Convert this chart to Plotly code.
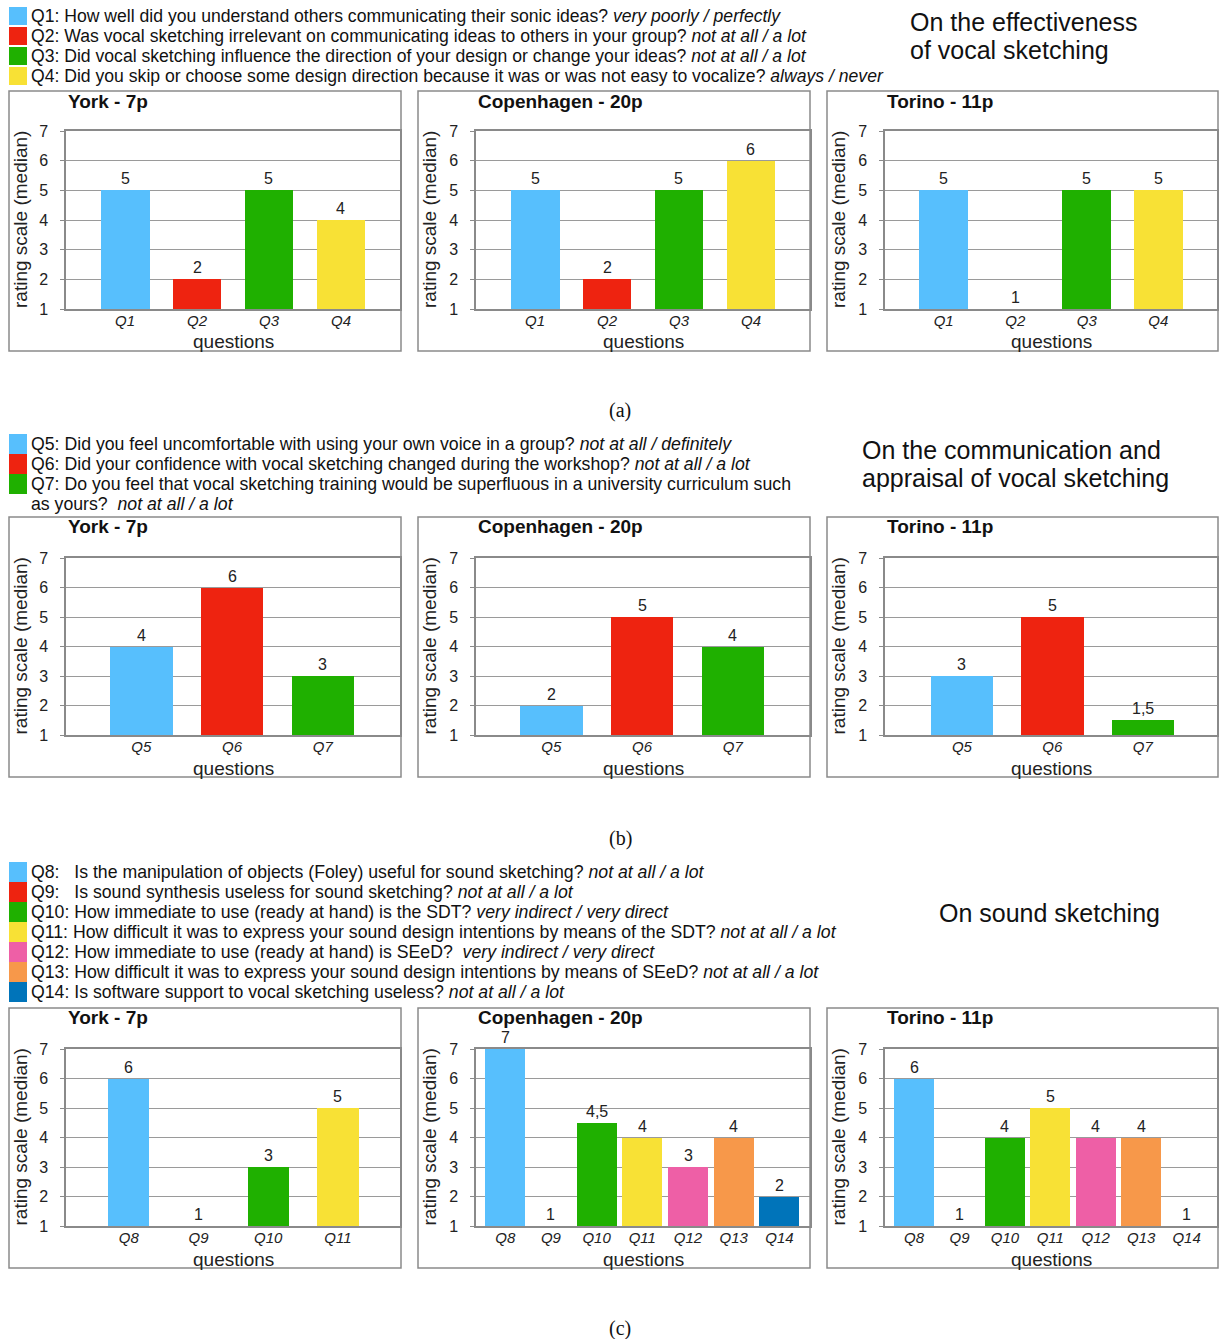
import plotly.graph_objects as go

W, H = 1219, 1339

# ---------------- data ----------------
questions_a = ["Q1", "Q2", "Q3", "Q4"]
york_a = [5, 2, 5, 4]
copenhagen_a = [5, 2, 5, 6]
torino_a = [5, 1, 5, 5]

questions_b = ["Q5", "Q6", "Q7"]
york_b = [4, 6, 3]
copenhagen_b = [2, 5, 4]
torino_b = [3, 5, 1.5]

questions_c_york = ["Q8", "Q9", "Q10", "Q11"]
york_c = [6, 1, 3, 5]
questions_c = ["Q8", "Q9", "Q10", "Q11", "Q12", "Q13", "Q14"]
copenhagen_c = [7, 1, 4.5, 4, 3, 4, 2]
torino_c = [6, 1, 4, 5, 4, 4, 1]

panel_titles = ["York - 7p", "Copenhagen - 20p", "Torino - 11p"]

legend_a = [
    ("Q1: How well did you understand others communicating their sonic ideas? ", "very poorly / perfectly"),
    ("Q2: Was vocal sketching irrelevant on communicating ideas to others in your group? ", "not at all / a lot"),
    ("Q3: Did vocal sketching influence the direction of your design or change your ideas? ", "not at all / a lot"),
    ("Q4: Did you skip or choose some design direction because it was or was not easy to vocalize? ", "always / never"),
]
legend_b = [
    ("Q5: Did you feel uncomfortable with using your own voice in a group? ", "not at all / definitely"),
    ("Q6: Did your confidence with vocal sketching changed during the workshop? ", "not at all / a lot"),
    ("Q7: Do you feel that vocal sketching training would be superfluous in a university curriculum such", ""),
]
legend_b_extra = ("as yours?\u00a0\u00a0", "not at all / a lot")
legend_c = [
    ("Q8:\u00a0\u00a0\u00a0Is the manipulation of objects (Foley) useful for sound sketching? ", "not at all / a lot"),
    ("Q9:\u00a0\u00a0\u00a0Is sound synthesis useless for sound sketching? ", "not at all / a lot"),
    ("Q10: How immediate to use (ready at hand) is the SDT? ", "very indirect / very direct"),
    ("Q11: How difficult it was to express your sound design intentions by means of the SDT? ", "not at all / a lot"),
    ("Q12: How immediate to use (ready at hand) is SEeD?\u00a0\u00a0", "very indirect / very direct"),
    ("Q13: How difficult it was to express your sound design intentions by means of SEeD? ", "not at all / a lot"),
    ("Q14: Is software support to vocal sketching useless? ", "not at all / a lot"),
]
section_titles = [["On the effectiveness", "of vocal sketching"],
                  ["On the communication and", "appraisal of vocal sketching"],
                  ["On sound sketching"]]
captions = ["(a)", "(b)", "(c)"]

colors = {
    "Q1": "#57BFFD", "Q2": "#EE2310", "Q3": "#1FB000", "Q4": "#F8E135",
    "Q5": "#57BFFD", "Q6": "#EE2310", "Q7": "#1FB000",
    "Q8": "#57BFFD", "Q9": "#EE2310", "Q10": "#1FB000", "Q11": "#F8E135",
    "Q12": "#EE5FA6", "Q13": "#F7984A", "Q14": "#0074BA",
}

# ---------------- layout geometry (pixels) ----------------
col_plot_x = [(66, 400), (476, 810), (885, 1217)]
col_box_x = [(9, 401), (418, 810), (827, 1218)]
row_plot_y = [(131, 309), (558, 735), (1049, 1226)]
row_box_y = [(91, 351), (517, 777), (1008, 1268)]

panels = [
    # row, col, categories, values, xrange, barwidth
    (0, 0, questions_a, york_a, [-0.82, 3.82], 0.68),
    (0, 1, questions_a, copenhagen_a, [-0.82, 3.82], 0.68),
    (0, 2, questions_a, torino_a, [-0.82, 3.82], 0.68),
    (1, 0, questions_b, york_b, [-0.83, 2.85], 0.69),
    (1, 1, questions_b, copenhagen_b, [-0.83, 2.85], 0.69),
    (1, 2, questions_b, torino_b, [-0.85, 2.82], 0.69),
    (2, 0, questions_c_york, york_c, [-0.9, 3.89], 0.59),
    (2, 1, questions_c, copenhagen_c, [-0.64, 6.67], 0.88),
    (2, 2, questions_c, torino_c, [-0.64, 6.67], 0.88),
]

def X(px):
    return px / W

def Y(py):
    return 1 - py / H

FONT = "Liberation Sans, Arial, sans-serif"
GRID = "#9a9a9a"

fig = go.Figure()
annotations = []
shapes = []

def fmt(v):
    return str(int(v)) if float(v).is_integer() else str(v).replace(".", ",")

for i, (r, c, cats, vals, xr, bw) in enumerate(panels):
    idx = "" if i == 0 else str(i + 1)
    xs = list(range(len(cats)))
    fig.add_trace(go.Bar(
        x=xs, y=vals, width=bw,
        marker=dict(color=[colors[q] for q in cats], line=dict(width=0)),
        xaxis="x" + idx, yaxis="y" + idx, showlegend=False,
        hovertext=cats,
    ))
    x0, x1 = col_plot_x[c]
    y0, y1 = row_plot_y[r]
    fig.layout["xaxis" + idx] = dict(
        domain=[X(x0), X(x1)], anchor="y" + idx, range=xr,
        tickvals=xs, ticktext=["<i>%s</i>" % q for q in cats],
        tickfont=dict(family=FONT, size=15, color="#222"),
        showgrid=False, zeroline=False, showline=True, linecolor="#8a8a8a",
        linewidth=1.5, mirror=True, ticks="", fixedrange=True, automargin=False,
        ticklabelstandoff=-3,
    )
    fig.layout["yaxis" + idx] = dict(
        domain=[Y(y1), Y(y0)], anchor="x" + idx, range=[1, 7],
        tickvals=[1, 2, 3, 4, 5, 6, 7],
        tickfont=dict(family=FONT, size=16, color="#222"),
        showgrid=True, gridcolor=GRID, gridwidth=1, zeroline=False,
        showline=True, linecolor="#8a8a8a", linewidth=1.5, mirror=True,
        ticks="outside", ticklen=4, tickcolor="#8a8a8a", fixedrange=True,
        ticklabelstandoff=9, automargin=False,
    )
    # value labels
    for xv, v in zip(xs, vals):
        annotations.append(dict(
            x=xv, y=v, xref="x" + idx, yref="y" + idx, text=fmt(v),
            showarrow=False, yanchor="bottom", yshift=1,
            font=dict(family=FONT, size=16, color="#222"),
        ))
    # panel box
    bx0, bx1 = col_box_x[c]
    by0, by1 = row_box_y[r]
    shapes.append(dict(type="rect", xref="paper", yref="paper",
                       x0=X(bx0), x1=X(bx1), y0=Y(by1), y1=Y(by0),
                       line=dict(color="#8a8a8a", width=1.5)))
    # panel title
    annotations.append(dict(
        x=X(x0), y=Y(by0 + 10), xref="paper", yref="paper",
        text="<b>%s</b>" % panel_titles[c], showarrow=False,
        xanchor="left", yanchor="middle",
        font=dict(family=FONT, size=19, color="#111"),
    ))
    # y title
    annotations.append(dict(
        x=X(bx0 + 11), y=Y((y0 + y1) / 2), xref="paper", yref="paper",
        text="rating scale (median)", textangle=-90, showarrow=False,
        xanchor="center", yanchor="middle",
        font=dict(family=FONT, size=19, color="#222"),
    ))
    # x title
    annotations.append(dict(
        x=X((x0 + x1) / 2), y=Y(y1 + 33), xref="paper", yref="paper",
        text="questions", showarrow=False, xanchor="center", yanchor="middle",
        font=dict(family=FONT, size=19, color="#222"),
    ))

# ---------------- legends ----------------
def add_legend(items, y_start, step, qnames, size, sq_h):
    for k, ((txt, it), q) in enumerate(zip(items, qnames)):
        yc = y_start + k * step
        shapes.append(dict(type="rect", xref="paper", yref="paper",
                           x0=X(9), x1=X(27), y0=Y(yc + sq_h / 2), y1=Y(yc - sq_h / 2),
                           fillcolor=colors[q], line=dict(width=0)))
        t = txt + ("<i>%s</i>" % it if it else "")
        annotations.append(dict(x=X(29), y=Y(yc), xref="paper", yref="paper",
                                text=t, showarrow=False, xanchor="left", yanchor="middle",
                                font=dict(family=FONT, size=size, color="#111")))

add_legend(legend_a, 16, 20, questions_a, 17.6, 18)
add_legend(legend_b, 444, 20, questions_b, 17.7, 20)
annotations.append(dict(x=X(29), y=Y(504), xref="paper", yref="paper",
                        text=legend_b_extra[0] + "<i>%s</i>" % legend_b_extra[1],
                        showarrow=False, xanchor="left", yanchor="middle",
                        font=dict(family=FONT, size=17.7, color="#111")))
add_legend(legend_c, 872, 20, questions_c, 17.7, 20)

# section titles
for lines, (px, py) in zip(section_titles, [(908, 22), (860, 450), (937, 913)]):
    for k, line in enumerate(lines):
        annotations.append(dict(x=X(px), y=Y(py + 28 * k), xref="paper", yref="paper",
                                text=line, showarrow=False, xanchor="left", yanchor="middle",
                                font=dict(family=FONT, size=25, color="#111")))

# captions
for txt, py in zip(captions, [410, 838, 1328]):
    annotations.append(dict(x=X(620), y=Y(py), xref="paper", yref="paper",
                            text=txt, showarrow=False, xanchor="center", yanchor="middle",
                            font=dict(family="Liberation Serif, Times New Roman, serif",
                                      size=20, color="#111")))

fig.update_layout(
    width=W, height=H, margin=dict(l=0, r=0, t=0, b=0, autoexpand=False),
    paper_bgcolor="white", plot_bgcolor="white",
    annotations=annotations, shapes=shapes, bargap=0,
    font=dict(family=FONT),
)

fig.write_html("out.html", config={"displayModeBar": False},
               post_script="document.body.style.margin='0';document.body.style.overflow='hidden';")
